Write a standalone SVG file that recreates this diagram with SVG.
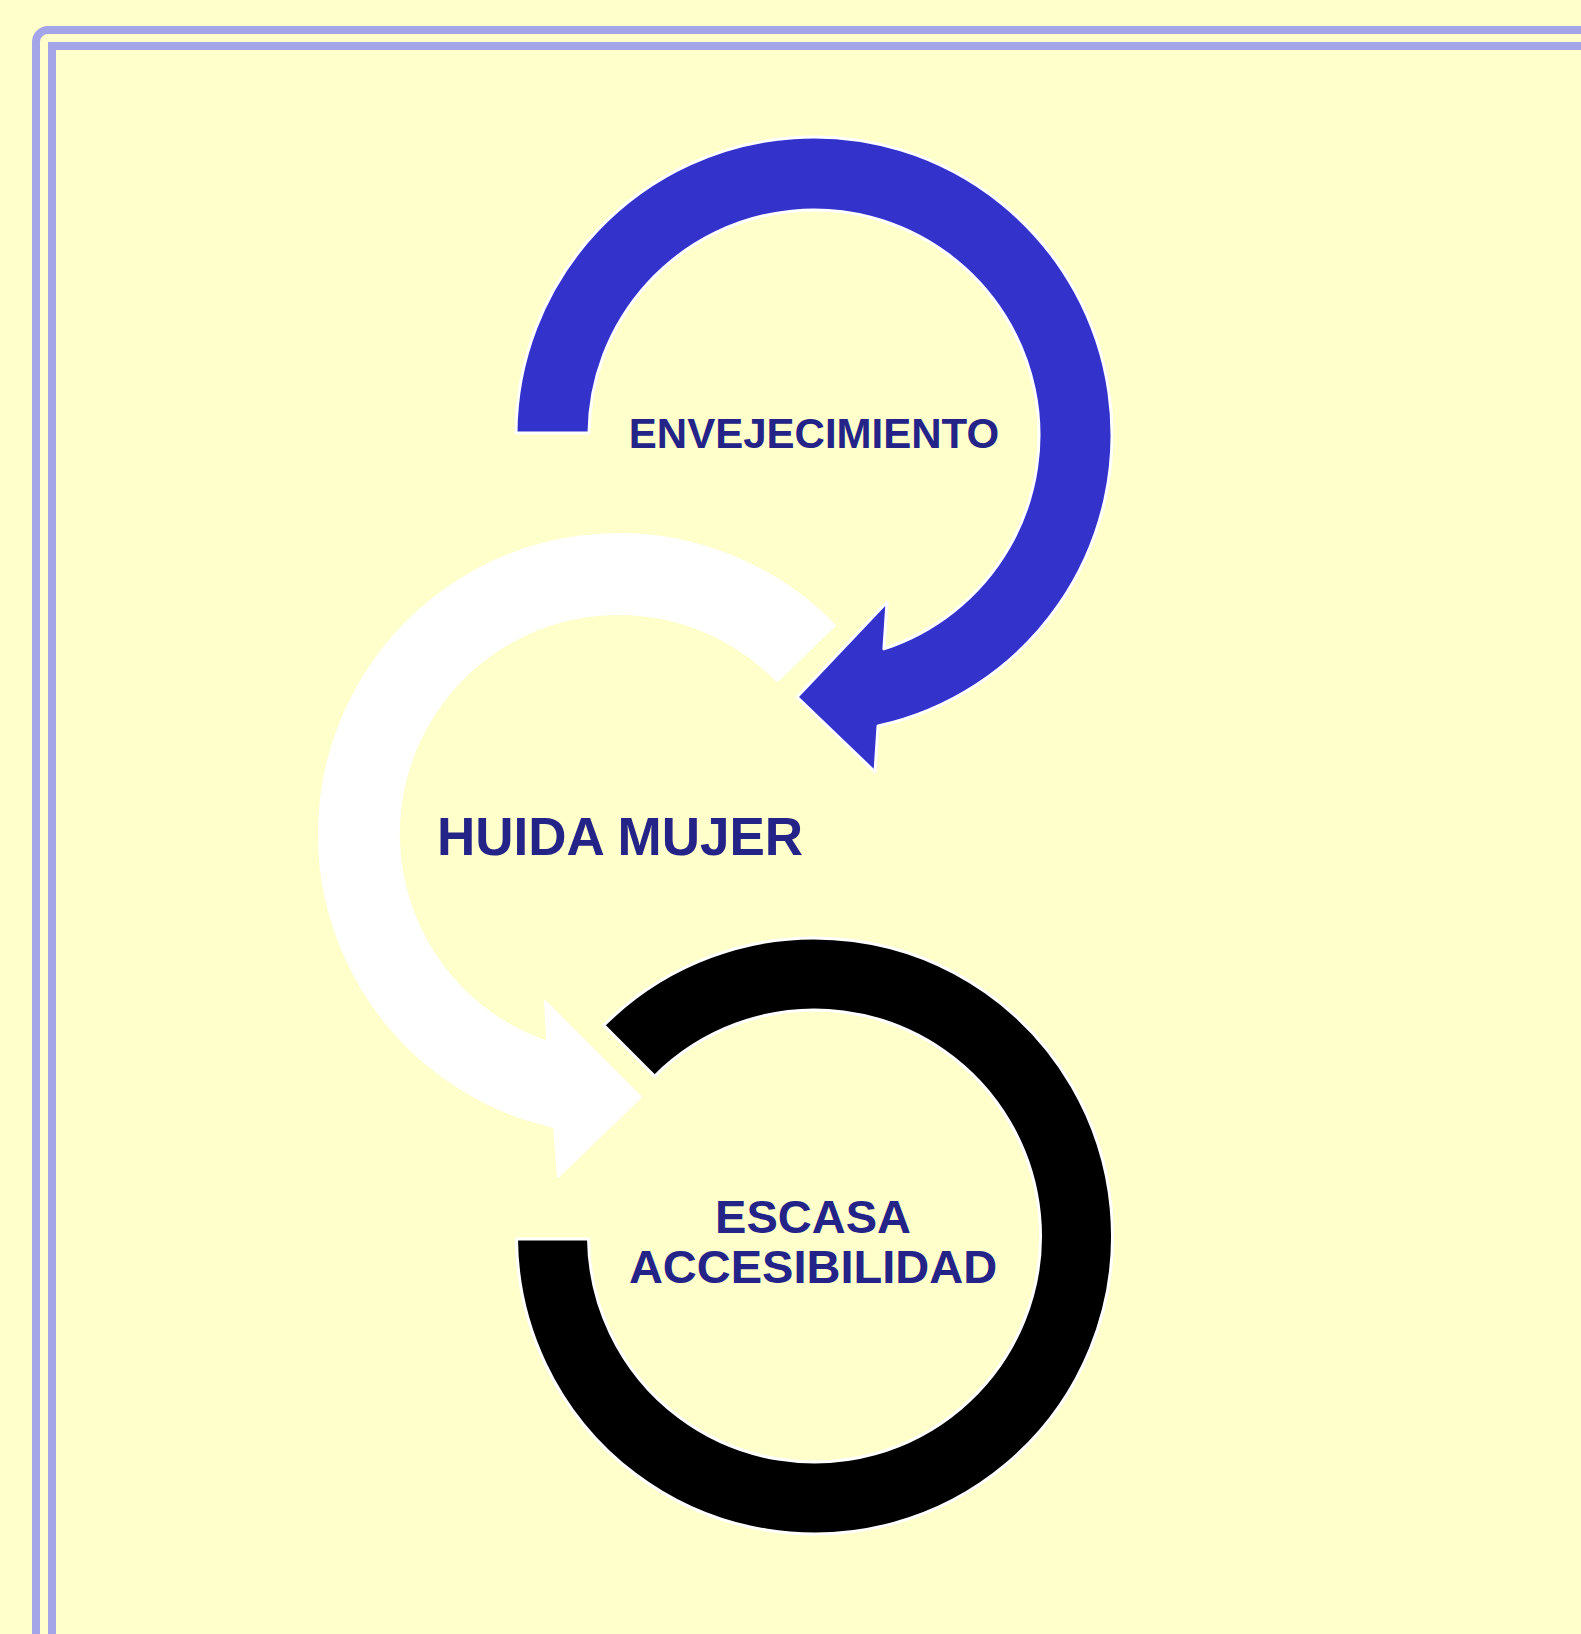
<svg xmlns="http://www.w3.org/2000/svg" width="1581" height="1634" viewBox="0 0 1581 1634">
<style>
.frame{fill:none;stroke:#a4a4e8;stroke-width:8}
.lbl{font-family:"Liberation Sans",Arial,sans-serif;font-weight:bold;fill:#232388;text-anchor:middle}
.ring{stroke:#ffffff;stroke-width:3;stroke-linejoin:round}
</style>
<rect x="0" y="0" width="1581" height="1634" fill="#ffffcc"/>
<g id="frame">
<rect class="frame" x="36" y="30" width="1600" height="1660" rx="12" ry="12"/>
<rect class="frame" x="52" y="46" width="1600" height="1660"/>
</g>
<g id="connectors">
<path id="arrow-blue" class="ring" fill="#3333cc" d="M 516 433 A 298 298 0 1 1 878 726 L 875 772 L 797 697 L 887 602 L 883.9 648.9 A 225 225 0 1 0 589 433 Z"/>
<path id="arrow-white" fill="#ffffff" stroke="#ffffff" stroke-width="2" stroke-linejoin="round" d="M 834.8 625.6 A 300 300 0 1 0 554.1 1126.9 L 558 1177 L 641 1097 L 545 1001 L 547.4 1042 A 220 220 0 1 1 777.2 681.2 Z"/>
<path id="arrow-black" class="ring" fill="#000000" d="M 516.5 1239 A 298 298 0 1 0 603.8 1025.3 L 654.7 1076.2 A 226 226 0 1 1 588.5 1239 Z"/>
</g>
<g id="node-envejecimiento">
<text class="lbl" x="814" y="448" font-size="42">ENVEJECIMIENTO</text>
</g>
<g id="node-huida">
<text class="lbl" x="620" y="855" font-size="53">HUIDA MUJER</text>
</g>
<g id="node-escasa">
<text class="lbl" x="813" y="1233" font-size="47">ESCASA</text>
<text class="lbl" x="813" y="1283" font-size="47">ACCESIBILIDAD</text>
</g>
</svg>
